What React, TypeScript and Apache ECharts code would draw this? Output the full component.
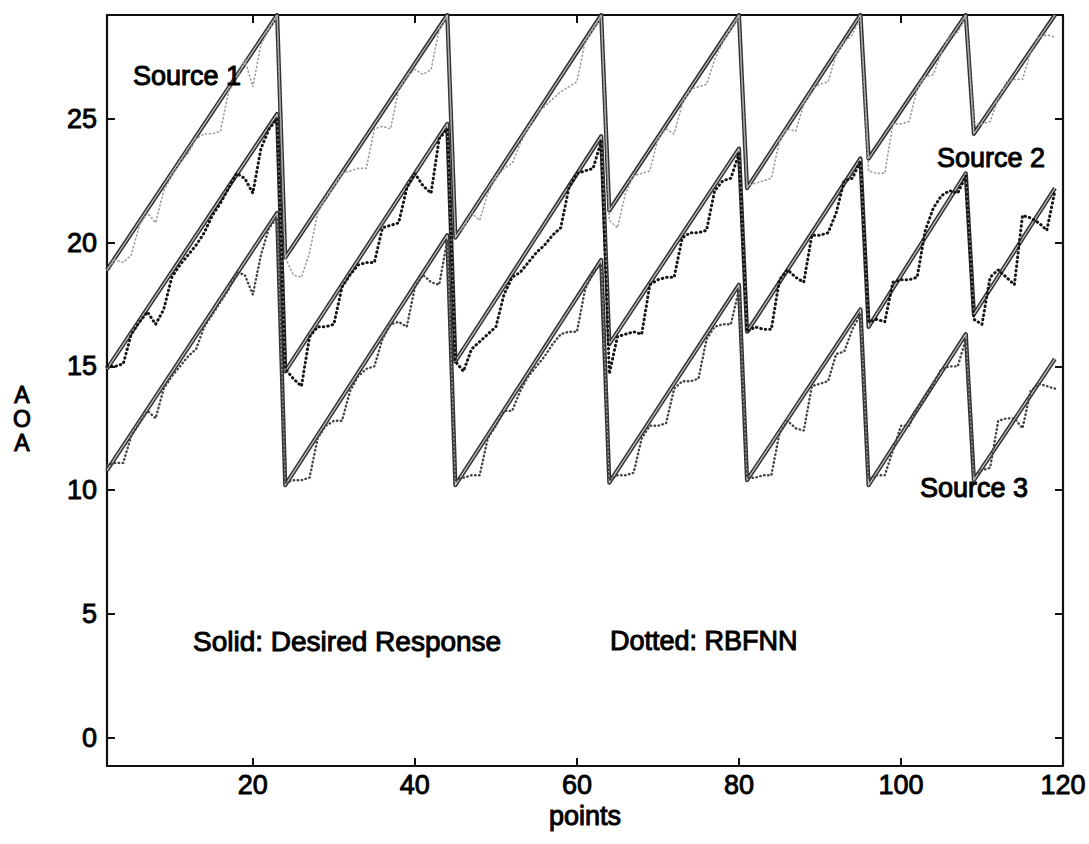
import React, { useEffect, useRef } from "react";
import * as echarts from "echarts";

// ---- data ----
const X_START = 2; // first sample index of the RBFNN outputs
const xTicks = [20, 40, 60, 80, 100, 120];
const yTicks = [0, 5, 10, 15, 20, 25];

// Desired response (solid): sawtooth vertices
const desiredX = [2, 23, 24, 44, 45, 63, 64, 80, 81, 95, 96, 108, 109, 119];
const desired1 = [18.9, 29.2, 19.4, 29.2, 20.2, 29.2, 21.3, 29.2, 22.2, 29.2, 23.4, 29.2, 24.4, 29.2];
const desired2 = [14.9, 25.2, 14.8, 24.8, 15.2, 24.3, 15.9, 23.8, 16.4, 23.4, 16.6, 22.8, 17.1, 22.2];
const desired3 = [10.8, 21.2, 10.2, 20.3, 10.2, 19.3, 10.3, 18.3, 10.4, 17.3, 10.2, 16.3, 10.4, 15.3];

// RBFNN estimates (dotted), one value per point, points 2..119
const rbf1 = [
  18.9, 19.3, 19.2, 19.5, 20.7, 21.2, 20.8, 22.1, 22.7, 23.2, 23.6, 24.2, 24.4, 24.4, 24.5, 26.1, 26.6, 27.4, 26.3, 28.0, 28.6, 29.1,
  19.4, 18.7, 18.6, 19.6, 21.2, 21.8, 22.2, 22.8, 22.9, 23.0, 23.0, 24.6, 24.7, 24.6, 26.2, 26.7, 27.0, 26.8, 27.0, 28.6, 29.1,
  20.3, 20.6, 21.2, 20.9, 22.0, 22.6, 23.0, 23.2, 24.0, 24.6, 25.2, 25.5, 25.8, 26.1, 26.3, 26.5, 28.1, 28.6, 29.1,
  20.9, 20.6, 22.0, 22.7, 22.8, 22.9, 24.2, 24.6, 24.4, 25.6, 26.2, 26.3, 26.4, 27.4, 28.1, 28.6, 29.1,
  22.3, 22.4, 22.5, 22.6, 24.1, 24.6, 24.5, 25.6, 26.2, 26.4, 26.5, 27.6, 28.1, 28.4, 29.1,
  22.9, 22.8, 22.8, 24.8, 24.8, 24.9, 26.2, 26.7, 26.8, 27.7, 28.4, 28.5, 29.1,
  24.8, 24.8, 24.9, 25.8, 26.5, 26.6, 26.6, 27.7, 28.3, 28.4, 28.3,
];
const rbf2 = [
  15.0, 15.0, 15.1, 16.3, 16.8, 17.2, 16.7, 17.3, 18.6, 19.1, 19.5, 19.9, 20.4, 21.1, 21.6, 22.2, 22.8, 22.6, 22.0, 23.8, 24.6, 25.0,
  14.9, 14.5, 14.2, 16.2, 16.6, 16.6, 16.7, 18.2, 18.7, 19.1, 19.2, 19.2, 20.6, 20.7, 20.8, 22.2, 22.8, 22.3, 22.0, 24.2, 24.6,
  15.2, 14.8, 15.7, 16.0, 16.3, 16.6, 17.9, 18.6, 18.8, 19.2, 19.6, 19.9, 20.3, 20.6, 22.2, 22.8, 22.9, 23.0, 24.1,
  14.7, 16.2, 16.3, 16.4, 16.3, 18.3, 18.5, 18.6, 18.6, 20.2, 20.4, 20.4, 20.5, 22.1, 22.5, 22.6, 23.6,
  16.4, 16.6, 16.5, 16.5, 18.5, 18.9, 18.6, 18.4, 20.3, 20.3, 20.4, 21.2, 22.5, 22.6, 23.3,
  16.8, 16.9, 16.8, 18.4, 18.5, 18.5, 18.6, 20.5, 21.4, 21.9, 22.1, 22.0, 22.7,
  16.9, 16.7, 18.6, 18.9, 18.6, 18.3, 21.1, 21.0, 20.8, 20.5, 22.1,
];
const rbf3 = [
  11.0, 11.1, 11.1, 12.2, 12.7, 13.2, 12.9, 14.1, 14.6, 15.0, 15.4, 15.7, 16.6, 17.1, 17.6, 18.1, 18.8, 18.7, 17.9, 19.5, 20.6, 21.0,
  10.3, 10.4, 10.4, 10.5, 12.1, 12.6, 12.8, 12.8, 14.0, 14.6, 14.9, 15.0, 16.1, 16.7, 16.8, 16.6, 18.2, 18.7, 18.4, 18.3, 20.1,
  10.4, 10.5, 10.6, 10.6, 12.1, 12.6, 13.2, 13.2, 14.0, 14.6, 15.0, 15.4, 15.9, 16.3, 16.4, 16.4, 18.1, 18.8, 19.1,
  10.4, 10.6, 10.6, 10.7, 12.1, 12.6, 12.6, 12.7, 14.1, 14.4, 14.4, 14.5, 16.1, 16.6, 16.7, 16.7, 18.1,
  10.5, 10.5, 10.6, 10.6, 12.3, 12.8, 12.5, 12.4, 14.2, 14.3, 14.4, 15.5, 15.6, 16.5, 17.1,
  10.5, 10.6, 10.6, 11.6, 12.6, 12.6, 13.3, 13.7, 14.3, 14.9, 15.0, 15.0, 16.1,
  10.6, 10.8, 10.9, 12.8, 12.9, 12.9, 12.5, 14.0, 14.3, 14.2, 14.1,
];

// y-axis title letters, stacked vertically
const yTitleLetters = ["A", "O", "A"];

const FONT = "'Liberation Sans', Arial, Helvetica, sans-serif";

export default function App() {
  const ref = useRef<HTMLDivElement>(null);

  useEffect(() => {
    if (!ref.current) return;
    const chart = echarts.init(ref.current, undefined, { renderer: "svg" });

    const pairs = (xs: number[], ys: number[]) => xs.map((x, i) => [x, ys[i]]);
    const seq = (ys: number[]) => ys.map((y, i) => [X_START + i, y]);

    const solid = (ys: number[]) => [
      {
        type: "line",
        data: pairs(desiredX, ys),
        symbol: "none",
        silent: true,
        z: 2,
        lineStyle: { color: "#333333", width: 4.2, join: "round" },
      },
      {
        type: "line",
        data: pairs(desiredX, ys),
        symbol: "none",
        silent: true,
        z: 3,
        lineStyle: { color: "#c4c4c4", width: 1.2, join: "round" },
      },
    ];

    const dotted = (ys: number[], color: string, width: number, dash: number[]) => ({
      type: "line",
      data: seq(ys),
      symbol: "none",
      silent: true,
      z: 4,
      lineStyle: { color, width, type: dash, cap: "round" },
    });

    const textStyle = (text: string, size = 27) => ({
      text,
      font: `${size}px ${FONT}`,
      fill: "#000",
      stroke: "#000",
      lineWidth: 1,
    });

    const axisCommon = {
      type: "value",
      axisLine: { show: true, onZero: false, lineStyle: { color: "#111", width: 2.2 } },
      splitLine: { show: false },
    };

    const labelFont = {
      fontSize: 27,
      fontFamily: FONT,
      color: "#000",
      textBorderColor: "#000",
      textBorderWidth: 0.9,
    };

    chart.setOption({
      animation: false,
      backgroundColor: "#ffffff",
      grid: { left: 107, right: 24, top: 15, bottom: 78, containLabel: false },
      xAxis: [
        {
          ...axisCommon,
          position: "bottom",
          min: 2,
          max: 120,
          axisTick: { show: true, inside: true, length: 8, customValues: xTicks, lineStyle: { color: "#111", width: 2 } },
          axisLabel: { show: true, customValues: xTicks, margin: 5, ...labelFont },
        },
        {
          ...axisCommon,
          position: "top",
          min: 2,
          max: 120,
          axisTick: { show: true, inside: true, length: 8, customValues: xTicks, lineStyle: { color: "#111", width: 2 } },
          axisLabel: { show: false },
        },
      ],
      yAxis: [
        {
          ...axisCommon,
          position: "left",
          min: -1.15,
          max: 29.2,
          axisTick: { show: true, inside: true, length: 8, customValues: yTicks, lineStyle: { color: "#111", width: 2 } },
          axisLabel: { show: true, customValues: yTicks, margin: 10, ...labelFont },
        },
        {
          ...axisCommon,
          position: "right",
          min: -1.15,
          max: 29.2,
          axisTick: { show: true, inside: true, length: 8, customValues: yTicks, lineStyle: { color: "#111", width: 2 } },
          axisLabel: { show: false },
        },
      ],
      series: [
        ...solid(desired1),
        ...solid(desired2),
        ...solid(desired3),
        dotted(rbf1, "#9c9c9c", 1.6, [1, 3]),
        dotted(rbf3, "#454545", 2.4, [0.5, 3.5]),
        dotted(rbf2, "#151515", 3, [0.5, 4]),
      ],
      graphic: [
        { type: "text", x: 133, y: 76, style: { ...textStyle("Source 1"), textVerticalAlign: "middle" }, z: 10 },
        { type: "text", x: 937, y: 158, style: { ...textStyle("Source 2"), textVerticalAlign: "middle" }, z: 10 },
        { type: "text", x: 920, y: 488, style: { ...textStyle("Source 3"), textVerticalAlign: "middle" }, z: 10 },
        { type: "text", x: 193, y: 641, style: { ...textStyle("Solid: Desired Response", 28), textVerticalAlign: "middle" }, z: 10 },
        { type: "text", x: 610, y: 641, style: { ...textStyle("Dotted: RBFNN"), textVerticalAlign: "middle" }, z: 10 },
        { type: "text", x: 585, y: 816, style: { ...textStyle("points"), textAlign: "center", textVerticalAlign: "middle" }, z: 10 },
        ...yTitleLetters.map((ch, i) => ({
          type: "text",
          x: 22,
          y: 395 + i * 24,
          style: { ...textStyle(ch, 23), textAlign: "center", textVerticalAlign: "middle" },
          z: 10,
        })),
      ],
    });

    return () => chart.dispose();
  }, []);

  return (
    <div
      ref={ref}
      style={{ position: "absolute", left: 0, top: 0, width: 1089, height: 844, background: "#fff" }}
    />
  );
}
